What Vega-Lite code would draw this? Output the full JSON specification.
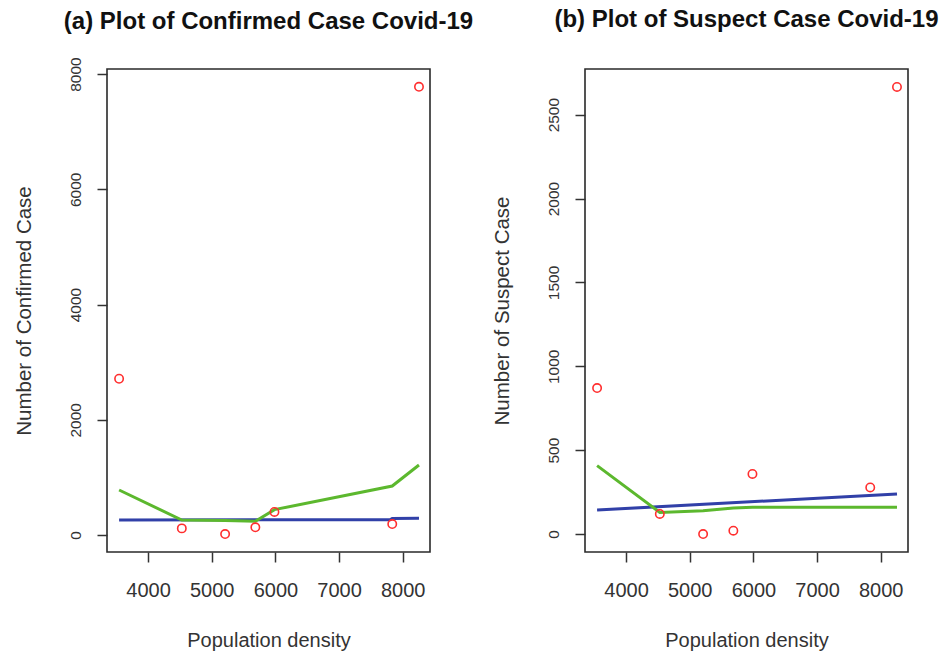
{
  "$schema": "https://vega.github.io/schema/vega-lite/v6.json",
  "background": "white",
  "padding": {"left": 13, "top": 7, "right": 2, "bottom": 2},
  "datasets": {
    "points": [
      {"density": 3545, "confirmed": 2712, "suspect": 870},
      {"density": 4530, "confirmed": 115, "suspect": 120},
      {"density": 5210, "confirmed": 17, "suspect": 0},
      {"density": 5685, "confirmed": 133, "suspect": 20},
      {"density": 5985, "confirmed": 400, "suspect": 358},
      {"density": 7835, "confirmed": 190, "suspect": 278},
      {"density": 8255, "confirmed": 7779, "suspect": 2665}
    ],
    "confLines": [
      {"density": 3545, "model": "blue", "value": 262},
      {"density": 7800, "model": "blue", "value": 264},
      {"density": 7835, "model": "blue", "value": 288},
      {"density": 8255, "model": "blue", "value": 290},
      {"density": 3545, "model": "green", "value": 781},
      {"density": 4530, "model": "green", "value": 260},
      {"density": 5210, "model": "green", "value": 250},
      {"density": 5685, "model": "green", "value": 240},
      {"density": 5985, "model": "green", "value": 440},
      {"density": 7835, "model": "green", "value": 850},
      {"density": 8255, "model": "green", "value": 1215}
    ],
    "suspLines": [
      {"density": 3545, "model": "blue", "value": 143},
      {"density": 8255, "model": "blue", "value": 239},
      {"density": 3545, "model": "green", "value": 408},
      {"density": 4530, "model": "green", "value": 129},
      {"density": 5210, "model": "green", "value": 139},
      {"density": 5685, "model": "green", "value": 155},
      {"density": 5985, "model": "green", "value": 159},
      {"density": 7835, "model": "green", "value": 159},
      {"density": 8255, "model": "green", "value": 159}
    ]
  },
  "bounds": "flush",
  "spacing": 155,
  "config": {
    "font": "Liberation Sans",
    "view": {"stroke": "#2a2a2a", "strokeWidth": 1.6},
    "axis": {
      "grid": false,
      "domain": false,
      "format": "d",
      "tickColor": "#333333",
      "tickWidth": 1.5,
      "tickSize": 10,
      "labelFont": "Liberation Sans",
      "labelColor": "#333333",
      "titleFont": "Liberation Sans",
      "titleColor": "#333333",
      "titleFontWeight": "normal"
    },
    "axisX": {
      "labelFontSize": 20,
      "labelBaseline": "alphabetic",
      "labelPadding": 34,
      "titleFontSize": 20,
      "titleBaseline": "alphabetic",
      "titleY": 94
    },
    "axisY": {
      "labelFontSize": 15.5,
      "labelAngle": -90,
      "labelAlign": "center",
      "labelBaseline": "alphabetic",
      "labelPadding": 17,
      "titleFontSize": 20.5,
      "titleBaseline": "alphabetic",
      "titleX": -77
    },
    "title": {
      "font": "Liberation Sans",
      "fontSize": 24,
      "fontWeight": "bold",
      "color": "#111111",
      "anchor": "middle",
      "baseline": "alphabetic",
      "frame": "group"
    }
  },
  "hconcat": [
    {
      "width": 323,
      "height": 483,
      "title": {"text": "(a) Plot of Confirmed Case Covid-19", "offset": 23},
      "layer": [
        {
          "data": {"name": "confLines"},
          "mark": {"type": "line", "strokeWidth": 3},
          "encoding": {
            "x": {"field": "density", "type": "quantitative",
                  "scale": {"domain": [3355, 8428], "nice": false, "zero": false},
                  "axis": {"values": [4000, 5000, 6000, 7000, 8000], "title": "Population density"}},
            "y": {"field": "value", "type": "quantitative",
                  "scale": {"domain": [-295, 8088], "nice": false, "zero": false},
                  "axis": {"values": [0, 2000, 4000, 6000, 8000], "title": "Number of Confirmed Case"}},
            "color": {"field": "model", "type": "nominal",
                      "scale": {"domain": ["blue", "green"], "range": ["#3140a8", "#5cb82e"]},
                      "legend": null}
          }
        },
        {
          "data": {"name": "points"},
          "mark": {"type": "point", "shape": "circle", "filled": false, "color": "#ff2e2e", "size": 70, "strokeWidth": 1.6, "opacity": 1},
          "encoding": {
            "x": {"field": "density", "type": "quantitative"},
            "y": {"field": "confirmed", "type": "quantitative"}
          }
        }
      ]
    },
    {
      "width": 323,
      "height": 483,
      "title": {"text": "(b) Plot of Suspect Case Covid-19", "offset": 37},
      "layer": [
        {
          "data": {"name": "suspLines"},
          "mark": {"type": "line", "strokeWidth": 3},
          "encoding": {
            "x": {"field": "density", "type": "quantitative",
                  "scale": {"domain": [3355, 8428], "nice": false, "zero": false},
                  "axis": {"values": [4000, 5000, 6000, 7000, 8000], "title": "Population density"}},
            "y": {"field": "value", "type": "quantitative",
                  "scale": {"domain": [-107, 2772], "nice": false, "zero": false},
                  "axis": {"values": [0, 500, 1000, 1500, 2000, 2500], "title": "Number of Suspect Case"}},
            "color": {"field": "model", "type": "nominal",
                      "scale": {"domain": ["blue", "green"], "range": ["#3140a8", "#5cb82e"]},
                      "legend": null}
          }
        },
        {
          "data": {"name": "points"},
          "mark": {"type": "point", "shape": "circle", "filled": false, "color": "#ff2e2e", "size": 70, "strokeWidth": 1.6, "opacity": 1},
          "encoding": {
            "x": {"field": "density", "type": "quantitative"},
            "y": {"field": "suspect", "type": "quantitative"}
          }
        }
      ]
    }
  ]
}
